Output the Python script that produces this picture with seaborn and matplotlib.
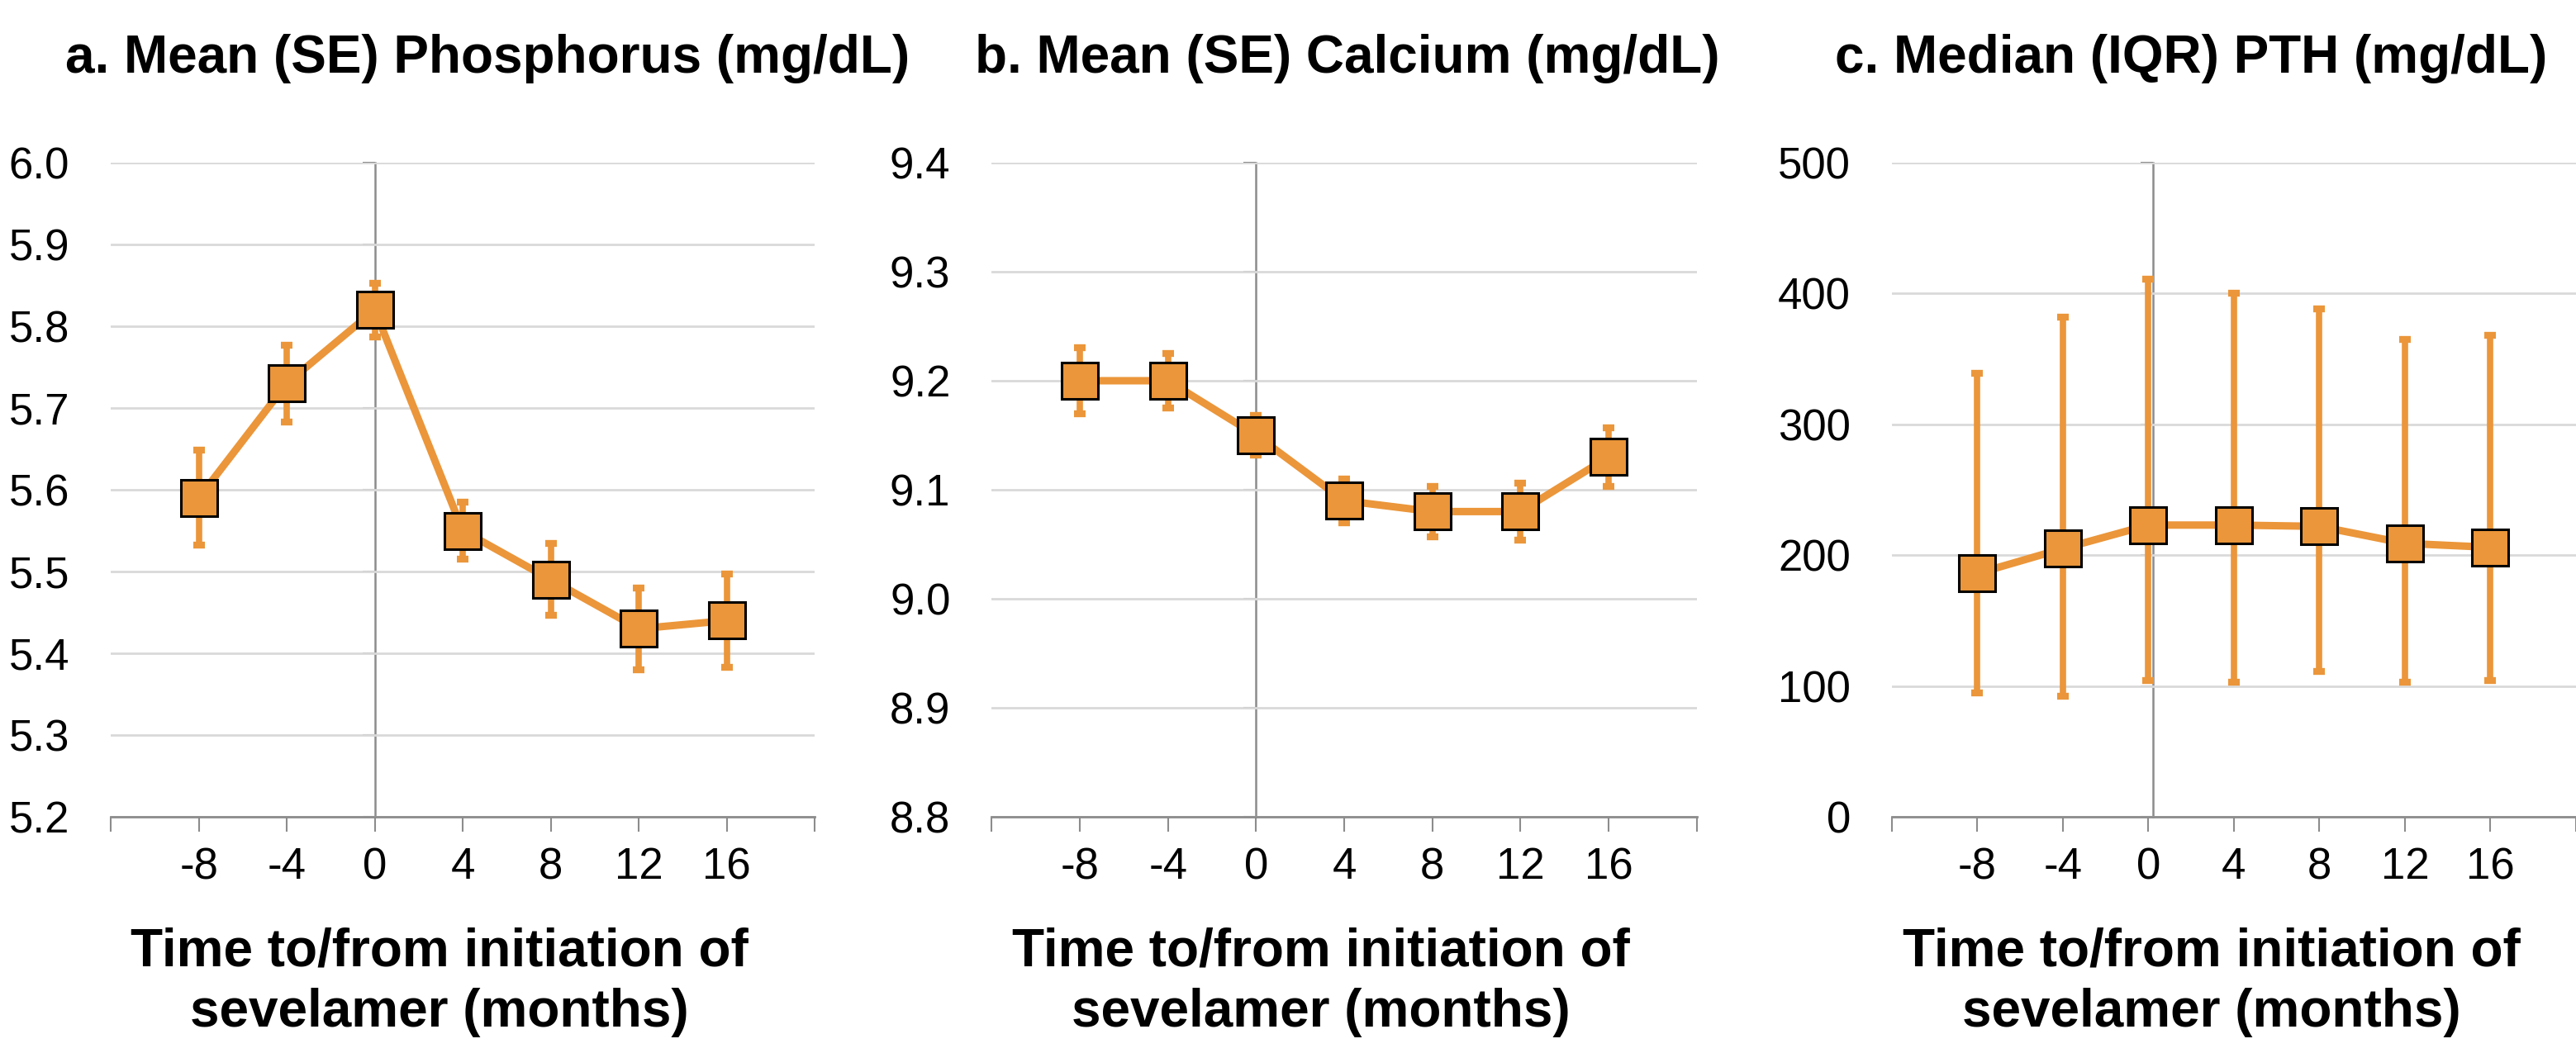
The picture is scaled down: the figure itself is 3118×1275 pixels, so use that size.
import matplotlib.pyplot as plt
import seaborn as sns

# months relative to sevelamer start
months = [-8, -4, 0, 4, 8, 12, 16]

phos_mean = [5.59, 5.73, 5.82, 5.55, 5.49, 5.43, 5.44]
phos_se = [0.058, 0.047, 0.033, 0.035, 0.044, 0.050, 0.057]

ca_mean = [9.20, 9.20, 9.15, 9.09, 9.08, 9.08, 9.13]
ca_se = [0.030, 0.025, 0.018, 0.020, 0.023, 0.026, 0.027]

pth_median = [186, 205, 223, 223, 222, 209, 206]
pth_q1 = [95, 92, 104, 103, 111, 103, 104]
pth_q3 = [339, 382, 411, 400, 388, 365, 368]

titles = [
    "a. Mean (SE) Phosphorus (mg/dL)",
    "b. Mean (SE) Calcium (mg/dL)",
    "c. Median (IQR) PTH (mg/dL)",
]
xlabel = "Time to/from initiation of\nsevelamer (months)"

ORANGE = "#EB963A"
GRID = "#D9D9D9"
AXGRAY = "#8C8C8C"

sns.set_theme(style="white")
plt.rcParams["font.family"] = ["Liberation Sans", "DejaVu Sans"]

fig = plt.figure(figsize=(31.18, 12.75), dpi=100)

bottom, height = 0.2243, 0.6212
panels = [
    dict(rect=[0.0430, bottom, 0.2733, height], xlim=(-12, 20), title_x=0.535,
         y=phos_mean, lo=[m - s for m, s in zip(phos_mean, phos_se)],
         hi=[m + s for m, s in zip(phos_mean, phos_se)],
         yticks=[5.2, 5.3, 5.4, 5.5, 5.6, 5.7, 5.8, 5.9, 6.0], fmt="{:.1f}"),
    dict(rect=[0.3850, bottom, 0.2736, height], xlim=(-12, 20), title_x=0.505,
         y=ca_mean, lo=[m - s for m, s in zip(ca_mean, ca_se)],
         hi=[m + s for m, s in zip(ca_mean, ca_se)],
         yticks=[8.8, 8.9, 9.0, 9.1, 9.2, 9.3, 9.4], fmt="{:.1f}"),
    dict(rect=[0.7344, bottom, 0.2656, height], xlim=(-12, 19.46), title_x=0.438,
         y=pth_median, lo=pth_q1, hi=pth_q3,
         yticks=[0, 100, 200, 300, 400, 500], fmt="{:.0f}"),
]

for p, title in zip(panels, titles):
    ax = fig.add_axes(p["rect"])
    ys = p["y"]
    yerr = [[v - l for v, l in zip(ys, p["lo"])], [h - v for v, h in zip(ys, p["hi"])]]

    ax.errorbar(months, ys, yerr=yerr, fmt="none", ecolor=ORANGE, elinewidth=5.5,
                capsize=5, capthick=6, zorder=2)
    sns.lineplot(x=months, y=ys, ax=ax, color=ORANGE, linewidth=6.5, marker="s",
                 markersize=32, markerfacecolor=ORANGE, markeredgecolor="black",
                 markeredgewidth=2.2, zorder=4)

    ax.set_xlim(*p["xlim"])
    ax.set_ylim(p["yticks"][0], p["yticks"][-1])
    xt = list(range(-12, 21, 4))
    ax.set_xticks(xt)
    ax.set_xticklabels(["" if (t < -8 or t > 16) else str(t) for t in xt])
    ax.set_yticks(p["yticks"])
    ax.set_yticklabels([p["fmt"].format(t) for t in p["yticks"]])

    ax.yaxis.grid(True, color=GRID, linewidth=2)
    ax.set_axisbelow(True)
    for side in ["left", "right", "top"]:
        ax.spines[side].set_visible(False)
    ax.spines["bottom"].set_color(AXGRAY)
    ax.spines["bottom"].set_linewidth(2)
    ax.tick_params(axis="x", bottom=True, direction="out", length=13, width=1.5,
                   color=AXGRAY, labelsize=38, pad=13, labelcolor="black")
    ax.tick_params(axis="y", left=False, labelsize=38, pad=30, labelcolor="black")

    # vertical axis crossing at month 0, with small tick marks
    x0, x1 = p["xlim"]
    sec = ax.secondary_yaxis((0 - x0) / (x1 - x0))
    sec.set_yticks(p["yticks"])
    sec.tick_params(axis="y", direction="out", length=11, width=1.5, color=AXGRAY,
                    labelleft=False, labelright=False)
    for s in sec.spines.values():
        s.set_color(AXGRAY)
        s.set_linewidth(1.8)

    ax.set_title(title, fontsize=46, fontweight="bold", x=p["title_x"], y=1.138,
                 pad=0, color="black")
    ax.set_xlabel(xlabel, fontsize=46, fontweight="bold", color="black",
                  linespacing=1.3)
    ax.xaxis.set_label_coords(0.467, -0.168)

fig.savefig("out.png", dpi=100, facecolor="white")
